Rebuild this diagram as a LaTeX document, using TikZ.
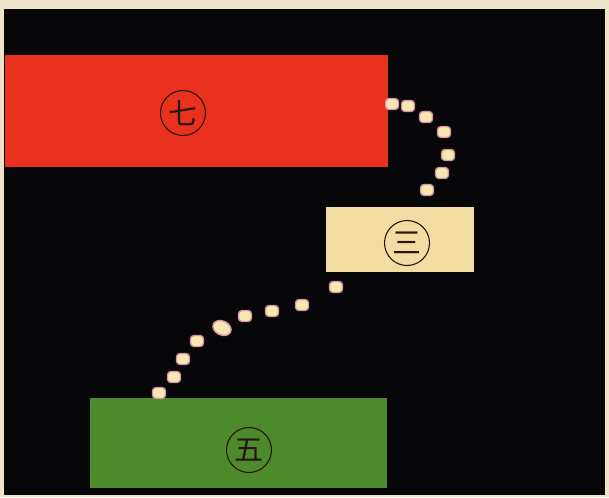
\documentclass[tikz,border=0pt]{standalone}
\usepackage{fontspec}
\usetikzlibrary{shapes.geometric}
\newfontfamily\cjkfont{Noto Sans CJK JP}
\definecolor{framecol}{HTML}{EDE3C8}
\definecolor{bgcol}{HTML}{070608}
\definecolor{redcol}{HTML}{E8321E}
\definecolor{creamcol}{HTML}{F2DCA2}
\definecolor{greencol}{HTML}{4D8A2C}
\definecolor{dotcol}{HTML}{F6E8B0}
\definecolor{glowcol}{HTML}{C8708A}
\definecolor{inkcol}{HTML}{2A1410}
\tikzset{
  block/.style={draw=none, anchor=north west, inner sep=0pt},
  glyphmark/.style={circle, draw=inkcol, line width=1.1pt, minimum size=45pt, inner sep=0pt,
    font=\cjkfont\fontsize{29}{29}\selectfont, text=inkcol},
  lamp/.style={rounded corners=3.5pt, fill=dotcol, draw=glowcol!75, line width=1.4pt,
    minimum width=13pt, minimum height=11pt, inner sep=0pt}
}
\begin{document}
\begin{tikzpicture}[x=1pt,y=-1pt]
\useasboundingbox (0,0) rectangle (609,497);
\fill[framecol] (0,0) rectangle (609,497);
\fill[bgcol] (4,9) rectangle (605,495);
% blocks
\node[block, fill=redcol, minimum width=383pt, minimum height=112pt] (red) at (5,55) {};
\node[block, fill=creamcol, minimum width=148pt, minimum height=65pt] (cream) at (326,207) {};
\node[block, fill=greencol, minimum width=297pt, minimum height=90pt] (green) at (90,398) {};
% labels
\node[glyphmark] (m7) at (183,113) {七};
\node[glyphmark] (m3) at (407,243) {三};
\node[glyphmark] (m5) at (249,450) {五};
% dotted connector red -> cream
\foreach \p [count=\i] in {(392,104),(408,106),(426,117),(444,132),(448,155),(442,173),(427,190)}
  \node[lamp] (a\i) at \p {};
% dotted connector cream -> green
\foreach \p [count=\i] in {(336,287),(302,305),(272,311),(245,316),(197,341),(183,359),(174,377),(159,393)}
  \node[lamp] (b\i) at \p {};
\node[lamp, ellipse, minimum width=19pt, minimum height=14pt, rotate=-25] (b0) at (222,328) {};
\end{tikzpicture}
\end{document}
